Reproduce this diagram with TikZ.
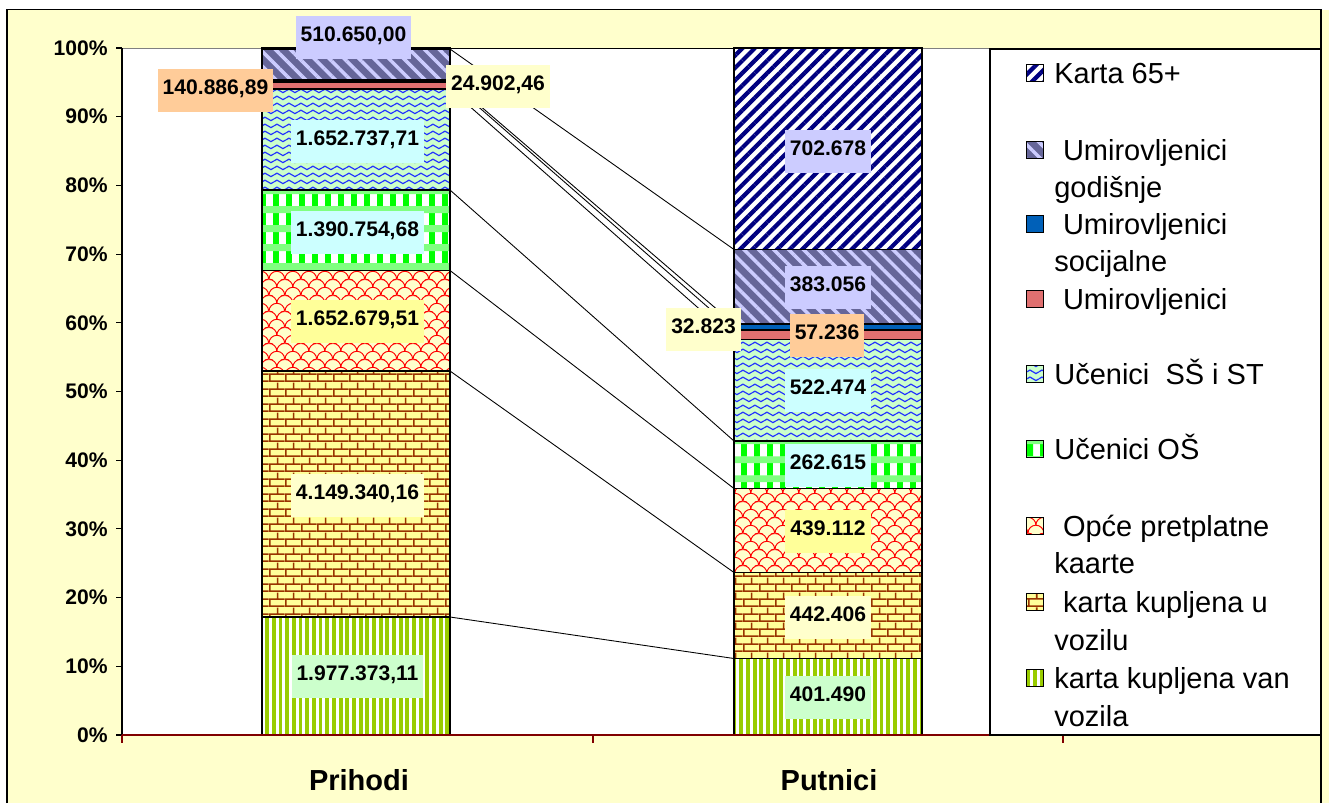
\documentclass[tikz,border=0pt]{standalone}
\usepackage{fontspec}
\setmainfont{Liberation Sans}
\usetikzlibrary{patterns,patterns.meta}

\definecolor{chartbg}{HTML}{FFFFCC}
\definecolor{navy65}{HTML}{000080}
\definecolor{purplegray}{HTML}{666699}
\definecolor{lilacline}{HTML}{CCCCFF}
\definecolor{socblue}{HTML}{0060B8}
\definecolor{umired}{HTML}{E07070}
\definecolor{mint}{HTML}{CCFFCC}
\definecolor{waveblue}{HTML}{2233FF}
\definecolor{brightgreen}{HTML}{00FF00}
\definecolor{palegreen}{HTML}{80FF80}
\definecolor{paleyellow}{HTML}{FFFFCC}
\definecolor{brickyellow}{HTML}{FFFF99}
\definecolor{brickred}{HTML}{993300}
\definecolor{limegreen}{HTML}{99CC00}
\definecolor{boxgreen}{HTML}{CCFFCC}
\definecolor{boxcream}{HTML}{FFFFCC}
\definecolor{boxyellow}{HTML}{FFFF99}
\definecolor{boxcyan}{HTML}{CCFFFF}
\definecolor{boxpeach}{HTML}{FFCC99}
\definecolor{boxlilac}{HTML}{CCCCFF}
\definecolor{axisred}{HTML}{800000}

% fill patterns of the bar segments
\tikzdeclarepattern{
  name=bricks,
  type=uncolored,
  bottom left={(0pt,0pt)},
  top right={(9pt,8.6pt)},
  tile size={(9pt,8.6pt)},
  code={
    \tikzset{x=1pt,y=1pt}
    \draw[line width=.9pt] (0,.5) -- (9,.5) (0,4.8) -- (9,4.8)
      (.5,.5) -- (.5,4.8) (5,4.8) -- (5,8.6);
  }
}
\tikzdeclarepattern{
  name=scales,
  type=uncolored,
  bottom left={(0pt,0pt)},
  top right={(9pt,9pt)},
  tile size={(9pt,9pt)},
  code={
    \tikzset{x=1pt,y=1pt}
    \draw[line width=.55pt] (0,.5) arc[start angle=180,end angle=0,radius=4.5pt]
      (-4.5,5) arc[start angle=180,end angle=0,radius=4.5pt]
      (4.5,5) arc[start angle=180,end angle=0,radius=4.5pt]
      (-4.5,-4) arc[start angle=180,end angle=0,radius=4.5pt]
      (4.5,-4) arc[start angle=180,end angle=0,radius=4.5pt];
  }
}
\tikzdeclarepattern{
  name=waves,
  type=uncolored,
  bottom left={(0pt,0pt)},
  top right={(6.8pt,4pt)},
  tile size={(6.8pt,4pt)},
  code={
    \tikzset{x=1pt,y=1pt}
    \draw[line width=.75pt] (0,2) sin (1.7,3.1) cos (3.4,2) sin (5.1,.9) cos (6.8,2);
  }
}
\tikzdeclarepattern{
  name=checks,
  type=colored,
  bottom left={(0pt,0pt)},
  top right={(7.4pt,11pt)},
  tile size={(7.4pt,11pt)},
  code={
    \tikzset{x=1pt,y=1pt}
    \fill[brightgreen] (0,0) rectangle (3.6,11);
    \fill[palegreen] (0,7) rectangle (7.4,11);
  }
}

\begin{document}
\begin{tikzpicture}[x=0.2mm, y=-0.2mm,
    seg/.style={draw=black, line width=.7pt},
    seg65/.style={seg, preaction={fill=white}, pattern={Lines[angle=45,distance=5pt,line width=2.4pt]}, pattern color=navy65},
    seggod/.style={seg, preaction={fill=purplegray}, pattern={Lines[angle=-45,distance=6pt,line width=2pt]}, pattern color=lilacline},
    segsoc/.style={seg, fill=socblue},
    segumi/.style={seg, fill=umired},
    segss/.style={seg, preaction={fill=mint}, pattern=waves, pattern color=waveblue},
    segos/.style={seg, preaction={fill=white}, pattern=checks},
    segop/.style={seg, preaction={fill=paleyellow}, pattern=scales, pattern color=red},
    segvoz/.style={seg, preaction={fill=brickyellow}, pattern=bricks, pattern color=brickred},
    segvan/.style={seg, preaction={fill=white}, pattern={Lines[angle=90,distance=3.8pt,line width=2.2pt]}, pattern color=limegreen},
    conn/.style={black, line width=.5pt},
    lbl/.style={font=\bfseries\fontsize{12}{14}\selectfont, inner xsep=1mm, inner ysep=2.1mm, text height=3mm, text depth=1.4mm},
    ylbl/.style={font=\bfseries\fontsize{12}{14}\selectfont, anchor=east, inner sep=0pt},
    xlbl/.style={font=\bfseries\fontsize{16.5}{18}\selectfont, inner sep=0pt},
    key/.style={minimum size=3.4mm, inner sep=0pt},
    legtxt/.style={font=\fontsize{16.5}{19}\selectfont, anchor=base west, inner sep=0pt}]
  \useasboundingbox (0,0) rectangle (1329,803);
  \fill[white] (0,0) rectangle (1329,803);
  % chart area and plot area
  \fill[chartbg] (7,9.5) rectangle (1329,803);
  \draw[black, line width=.6pt] (7,803) -- (7,9.5) -- (1321,9.5) -- (1321,803);
  \draw[gray, fill=white, line width=.5pt] (122,48) rectangle (1063,735);

  % segment tops: Prihodi at the right edge, Putnici at the left edge
  \coordinate (prl) at (262,0);
  \coordinate (pr0) at (450,735);
  \coordinate (pr1) at (450,617);
  \coordinate (pr2) at (450,371);
  \coordinate (pr3) at (450,270.5);
  \coordinate (pr4) at (450,190);
  \coordinate (pr5) at (450,89);
  \coordinate (pr6) at (450,82);
  \coordinate (pr7) at (450,80);
  \coordinate (pr8) at (450,49);
  \coordinate (pr9) at (450,48);
  \coordinate (pur) at (922,0);
  \coordinate (pu0) at (734,735);
  \coordinate (pu1) at (734,658.5);
  \coordinate (pu2) at (734,572.5);
  \coordinate (pu3) at (734,488.5);
  \coordinate (pu4) at (734,441);
  \coordinate (pu5) at (734,339.5);
  \coordinate (pu6) at (734,330);
  \coordinate (pu7) at (734,324);
  \coordinate (pu8) at (734,249.5);
  \coordinate (pu9) at (734,48);

  % Prihodi
  \path[segvan] (pr0 -| prl) rectangle (pr1);
  \path[segvoz] (pr1 -| prl) rectangle (pr2);
  \path[segop] (pr2 -| prl) rectangle (pr3);
  \path[segos] (pr3 -| prl) rectangle (pr4);
  \path[segss] (pr4 -| prl) rectangle (pr5);
  \path[segumi] (pr5 -| prl) rectangle (pr6);
  \path[segsoc] (pr6 -| prl) rectangle (pr7);
  \path[seggod] (pr7 -| prl) rectangle (pr8);
  \path[seg65] (pr8 -| prl) rectangle (pr9);

  % Putnici
  \path[segvan] (pu0) rectangle (pu1 -| pur);
  \path[segvoz] (pu1) rectangle (pu2 -| pur);
  \path[segop] (pu2) rectangle (pu3 -| pur);
  \path[segos] (pu3) rectangle (pu4 -| pur);
  \path[segss] (pu4) rectangle (pu5 -| pur);
  \path[segumi] (pu5) rectangle (pu6 -| pur);
  \path[segsoc] (pu6) rectangle (pu7 -| pur);
  \path[seggod] (pu7) rectangle (pu8 -| pur);
  \path[seg65] (pu8) rectangle (pu9 -| pur);

  % series lines
  \foreach \k in {1,...,9}
    \draw[conn] (pr\k) -- (pu\k);

  % axes
  \draw[black, line width=.6pt] (122,48) -- (122,735);
  \foreach \i/\t in {0/0,1/10,2/20,3/30,4/40,5/50,6/60,7/70,8/80,9/90,10/100}{
    \draw[black, line width=.6pt] (116,{735-68.7*\i}) -- (122,{735-68.7*\i});
    \node[ylbl] (y\i) at (108,{735-68.7*\i}) {\t\%};
  }
  \draw[axisred, line width=1pt] (122,735) -- (1063,735);
  \draw[axisred, line width=.6pt] (122,735) -- (122,743) (593,735) -- (593,743) (1063,735) -- (1063,743);
  \node[xlbl] (cat1) at (359,780) {Prihodi};
  \node[xlbl] (cat2) at (829,780) {Putnici};

  % data labels
  \node[lbl, fill=boxgreen] (lpr1) at (357.5,676.5) {1.977.373,11};
  \node[lbl, fill=boxcream] (lpr2) at (357.5,495.5) {4.149.340,16};
  \node[lbl, fill=boxyellow] (lpr3) at (357.5,321.5) {1.652.679,51};
  \node[lbl, fill=boxcyan] (lpr4) at (357.5,232) {1.390.754,68};
  \node[lbl, fill=boxcyan] (lpr5) at (357.5,141.5) {1.652.737,71};
  \node[lbl, fill=boxpeach] (lpr6) at (215.5,90.5) {140.886,89};
  \node[lbl, fill=boxcream] (lpr7) at (498,86.5) {24.902,46};
  \node[lbl, fill=boxlilac] (lpr8) at (353.5,37.5) {510.650,00};
  \node[lbl, fill=boxgreen] (lpu1) at (828,697) {401.490};
  \node[lbl, fill=boxcream] (lpu2) at (828,617) {442.406};
  \node[lbl, fill=boxyellow] (lpu3) at (828,531) {439.112};
  \node[lbl, fill=boxcyan] (lpu4) at (828,465) {262.615};
  \node[lbl, fill=boxcyan] (lpu5) at (828,390.5) {522.474};
  \node[lbl, fill=boxpeach] (lpu6) at (827,335.5) {57.236};
  \node[lbl, fill=boxcream] (lpu7) at (703.5,329.5) {32.823};
  \node[lbl, fill=boxlilac] (lpu8) at (828,287.5) {383.056};
  \node[lbl, fill=boxlilac] (lpu9) at (828,151.5) {702.678};

  % legend
  \draw[black, fill=white, line width=.6pt] (990,49) rectangle (1321,735);
  \node[key, seg65] (k1) at (1035,73) {};
  \node[key, seggod] (k2) at (1035,150) {};
  \node[key, segsoc] (k3) at (1035,224) {};
  \node[key, segumi] (k4) at (1035,299) {};
  \node[key, segss] (k5) at (1035,374) {};
  \node[key, segos] (k6) at (1035,449) {};
  \node[key, segop] (k7) at (1035,526) {};
  \node[key, segvoz] (k8) at (1035,602) {};
  \node[key, segvan] (k9) at (1035,678) {};
  \node[legtxt] (t1) at (1054,83) {Karta 65+};
  \node[legtxt] (t2a) at (1054,160) {\hspace*{.3em}Umirovljenici};
  \node[legtxt] (t2b) at (1054,197) {godišnje};
  \node[legtxt] (t3a) at (1054,234) {\hspace*{.3em}Umirovljenici};
  \node[legtxt] (t3b) at (1054,271) {socijalne};
  \node[legtxt] (t4) at (1054,309) {\hspace*{.3em}Umirovljenici};
  \node[legtxt] (t5) at (1054,384) {Učenici\ \ SŠ i ST};
  \node[legtxt] (t6) at (1054,459) {Učenici OŠ};
  \node[legtxt] (t7a) at (1054,536) {\hspace*{.3em}Opće pretplatne};
  \node[legtxt] (t7b) at (1054,573) {kaarte};
  \node[legtxt] (t8a) at (1054,612) {\hspace*{.3em}karta kupljena u};
  \node[legtxt] (t8b) at (1054,650) {vozilu};
  \node[legtxt] (t9a) at (1054,688) {karta kupljena van};
  \node[legtxt] (t9b) at (1054,726) {vozila};
\end{tikzpicture}
\end{document}
